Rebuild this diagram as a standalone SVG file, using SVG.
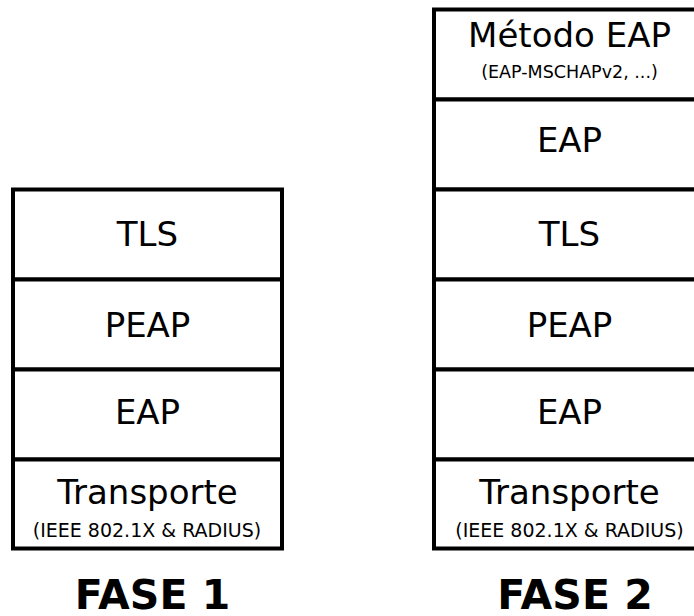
<svg xmlns="http://www.w3.org/2000/svg" width="694" height="616" viewBox="0 0 694 616">
<style>
.box{fill:#fff;stroke:#000;stroke-width:4}
.t{font-family:"DejaVu Sans",sans-serif;font-size:34px;text-anchor:middle;fill:#000}
.s{font-family:"DejaVu Sans",sans-serif;font-size:19px;text-anchor:middle;fill:#000}
.s2{font-family:"DejaVu Sans",sans-serif;font-size:17.5px;text-anchor:middle;fill:#000}
.h{font-family:"DejaVu Sans",sans-serif;font-size:41px;font-weight:bold;text-anchor:middle;fill:#000}
</style>
<rect width="694" height="616" fill="#fff"/>
<g id="fase1">
<g id="f1-tls"><rect class="box" x="13" y="189.5" width="269" height="90"/><text class="t" x="147.5" y="246">TLS</text></g>
<g id="f1-peap"><rect class="box" x="13" y="279.5" width="269" height="90"/><text class="t" x="147.5" y="337">PEAP</text></g>
<g id="f1-eap"><rect class="box" x="13" y="369.5" width="269" height="90"/><text class="t" x="147.5" y="424">EAP</text></g>
<g id="f1-transporte"><rect class="box" x="13" y="459.5" width="269" height="89"/><text class="t" x="147.5" y="504">Transporte</text><text class="s" x="147" y="537">(IEEE 802.1X &amp; RADIUS)</text></g>
<text id="f1-label" class="h" x="152.5" y="609">FASE 1</text>
</g>
<g id="fase2">
<g id="f2-metodo"><rect class="box" x="434" y="9.5" width="269" height="90"/><text class="t" x="569.5" y="47">Método EAP</text><text class="s2" x="569.5" y="78">(EAP-MSCHAPv2, ...)</text></g>
<g id="f2-eap2"><rect class="box" x="434" y="99.5" width="269" height="90"/><text class="t" x="569.5" y="152">EAP</text></g>
<g id="f2-tls"><rect class="box" x="434" y="189.5" width="269" height="90"/><text class="t" x="569.5" y="246">TLS</text></g>
<g id="f2-peap"><rect class="box" x="434" y="279.5" width="269" height="90"/><text class="t" x="569.5" y="337">PEAP</text></g>
<g id="f2-eap"><rect class="box" x="434" y="369.5" width="269" height="90"/><text class="t" x="569.5" y="424">EAP</text></g>
<g id="f2-transporte"><rect class="box" x="434" y="459.5" width="269" height="89"/><text class="t" x="569.5" y="504">Transporte</text><text class="s" x="569.5" y="537">(IEEE 802.1X &amp; RADIUS)</text></g>
<text id="f2-label" class="h" x="575" y="609">FASE 2</text>
</g>
<g id="connectors"/>
</svg>
